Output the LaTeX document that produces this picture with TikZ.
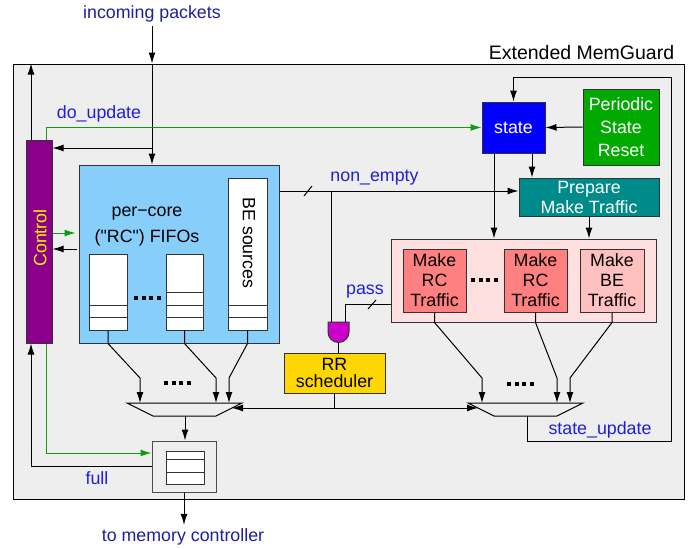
\documentclass[tikz,border=0pt]{standalone}
\usepackage{fontspec}
\setmainfont{Liberation Sans}[Ligatures=TeXOff]
\usetikzlibrary{arrows.meta,calc}

\definecolor{mggray}{HTML}{EEEEEE}
\definecolor{fifoblue}{HTML}{87CEFA}
\definecolor{ctrlpurple}{HTML}{8B008B}
\definecolor{stateblue}{HTML}{0000FF}
\definecolor{resetgreen}{HTML}{00AA00}
\definecolor{prepteal}{HTML}{008B8B}
\definecolor{trafpink}{HTML}{FFE0E0}
\definecolor{rcred}{HTML}{FF8080}
\definecolor{bered}{HTML}{FFC0C0}
\definecolor{gatemag}{HTML}{CC00CC}
\definecolor{rrgold}{HTML}{FFD700}
\definecolor{flowgreen}{HTML}{119911}
\definecolor{notenavy}{HTML}{1E1EA0}
\definecolor{sigblue}{HTML}{1E1EDC}

\begin{document}
\begin{tikzpicture}[x=1pt,y=-1pt,line width=1pt,
  every node/.style={font=\fontsize{17.8}{20}\selectfont},
  box/.style={draw=black!80,inner sep=0pt,align=center},
  arr/.style={-{Latex[length=11pt,width=7pt]}},
  garr/.style={arr,draw=flowgreen},
  note/.style={text=notenavy},
  sig/.style={text=sigblue}]
  \useasboundingbox (0,0) rectangle (699,549);
  % frame
  \node[box,draw=black,fill=mggray,minimum width=671pt,minimum height=435pt] (mg) at (348.5,281.5) {};
  \node[anchor=base east,font=\fontsize{19.5}{22}\selectfont] (mgname) at (678,59) {Extended MemGuard};
  % control
  \node[box,fill=ctrlpurple,minimum width=26pt,minimum height=203pt] (ctrl) at (39,241.5) {};
  \node[rotate=90,text=yellow] (ctrltxt) at (40,238) {Control};
  % per-core fifos
  \node[box,fill=fifoblue,minimum width=200pt,minimum height=178pt] (fifo) at (179,254) {};
  \node[align=center] (fifotxt) at (147,227) {per−core\\[6pt]("RC") FIFOs};
  \node[box,fill=white,minimum width=38pt,minimum height=76pt] (col1) at (108,292) {};
  \node[box,fill=white,minimum width=37pt,minimum height=76pt] (col2) at (184.5,292) {};
  \node[box,fill=white,minimum width=39pt,minimum height=152pt] (becol) at (247.5,254) {};
  \node[rotate=-90] (betxt) at (249,243) {BE sources};
  \foreach \c in {col1,col2,becol}
    \foreach \h in {13,25}
      \draw[black!80] ([yshift=\h pt]\c.south west) -- ([yshift=\h pt]\c.south east);
  \draw[black!80] ([yshift=38pt]col2.south west) -- ([yshift=38pt]col2.south east);
  % state part
  \node[box,fill=stateblue,text=white,minimum width=63pt,minimum height=51pt] (state) at (513.5,127.5) {state};
  \node[box,fill=resetgreen,text=white,minimum width=76pt,minimum height=76pt] (reset) at (621,127) {Periodic\\[3pt]State\\[3pt]Reset};
  \node[box,fill=prepteal,text=white,minimum width=140pt,minimum height=38pt] (prep) at (589,197) {Prepare\\Make Traffic};
  \node[box,fill=trafpink,minimum width=265pt,minimum height=83pt] (pink) at (523.5,280.5) {};
  \node[box,fill=rcred,minimum width=63pt,minimum height=63pt] (rc1) at (434.5,280.5) {Make\\RC\\Traffic};
  \node[box,fill=rcred,minimum width=63pt,minimum height=63pt] (rc2) at (535.5,280.5) {Make\\RC\\Traffic};
  \node[box,fill=bered,minimum width=64pt,minimum height=63pt] (be) at (612,280.5) {Make\\BE\\Traffic};
  % scheduler
  \node[box,fill=rrgold,minimum width=101pt,minimum height=40pt] (rr) at (334.5,373) {RR\\[-3pt]scheduler};
  \draw[fill=gatemag,draw=black!80] (328,322) -- (349,322) -- (349,332) arc (0:180:10.5) -- cycle;
  \coordinate (gin1) at (331,322);
  \coordinate (gin2) at (345,322);
  \coordinate (gout) at (338.5,342.5);
  % muxes
  \draw[fill=mggray] (127,403) -- (242,403) -- (216,416) -- (153,416) -- cycle;
  \draw[fill=mggray] (468,403) -- (583,403) -- (557,416) -- (494,416) -- cycle;
  \coordinate (m1a) at (140,403);
  \coordinate (m1b) at (216,403);
  \coordinate (m1c) at (229,403);
  \coordinate (m2a) at (482,403);
  \coordinate (m2b) at (557,403);
  \coordinate (m2c) at (570,403);
  \coordinate (m1r) at (232,408);
  \coordinate (m2l) at (478,408);
  \coordinate (m1out) at (185,416);
  \coordinate (m2out) at (527,416);
  % output fifo
  \node[box,draw=black!70,fill=mggray,minimum width=64pt,minimum height=51pt] (outfifo) at (184,466.5) {};
  \node[box,fill=white,minimum width=38pt,minimum height=33pt] (outbuf) at (185,467.5) {};
  \foreach \h in {12,25}
    \draw[black!80] ([yshift=\h pt]outbuf.south west) -- ([yshift=\h pt]outbuf.south east);
  % dots
  \foreach \dx/\dy in {134/296,164/381,471/278,507/382}
    \foreach \k in {0,...,3}
      \fill (\dx+\k*7.7,\dy) rectangle +(4,4);
  % labels
  \node[note] (inc) at (152,14) {incoming packets};
  \node[note] (mem) at (183,537) {to memory controller};
  \node[sig] (doupd) at (99,114) {do\_update};
  \node[sig] (netxt) at (374.5,178) {non\_empty};
  \node[sig] (passtxt) at (365,292) {pass};
  \node[sig] (stupd) at (600,430) {state\_update};
  \node[sig] (full) at (97,478) {full};
  % connections
  \coordinate (jin) at (inc |- 0,148);
  \draw[arr] (inc) -- (inc |- mg.north);
  \draw[arr] (inc |- mg.north) -- (inc |- fifo.north);
  \draw[arr] (jin) -- (jin -| ctrl.east);
  \coordinate (ctop1) at ([xshift=-8pt]ctrl.north);
  \coordinate (ctop2) at ([xshift=7pt]ctrl.north);
  \coordinate (cbot1) at ([xshift=-8pt]ctrl.south);
  \coordinate (cbot2) at ([xshift=7pt]ctrl.south);
  \draw[arr] (ctop1) -- (ctop1 |- mg.north);
  \draw[garr] (ctop2) |- (state.west);
  \draw[garr,shorten >=3pt] (ctrl.east |- 0,233) -- (fifo.west |- 0,233);
  \draw[arr,shorten <=2pt] (fifo.west |- 0,249) -- (ctrl.east |- 0,249);
  \draw[arr] (outfifo.west) -| (cbot1);
  \draw[garr] (cbot2) |- (outfifo.west |- 0,453);
  % non_empty and pass
  \coordinate (ne) at (331,191);
  \draw[arr] (fifo.east |- ne) -- (prep.west |- ne);
  \draw (304,196) -- (312,186);
  \draw (ne) -- (gin1);
  \draw (pink.west |- 0,304) -| (gin2);
  \draw (368,309) -- (376,300);
  \draw (gout) -- (gout |- rr.north);
  \coordinate (jrr) at (rr.south |- 0,408);
  \draw (rr.south) -- (jrr);
  \draw[arr] (jrr) -- (m1r);
  \draw[arr] (jrr) -- (m2l);
  % state
  \draw[arr] (reset.west) -- (state.east);
  \coordinate (st1) at ([xshift=-19.5pt]state.south);
  \coordinate (st2) at ([xshift=18.5pt]state.south);
  \draw[arr] (st1) -- (st1 |- pink.north);
  \draw[arr] (st2) -- (st2 |- prep.north);
  \draw[arr] (prep.south) -- (prep.south |- pink.north);
  \draw[arr] (m2out) |- (671,441) |- (state.north |- 0,77) -- (state.north);
  % sources to muxes
  \foreach \src/\encl/\dst in {col1/fifo/m1a,col2/fifo/m1b,becol/fifo/m1c,rc1/pink/m2a,rc2/pink/m2b,be/pink/m2c}
    \draw[arr] (\src.south) -- (\src.south |- \encl.south) -- ([yshift=25pt]\dst) -- (\dst);
  \draw[arr] (m1out) -- (m1out |- outfifo.north);
  \draw[arr] (outfifo.south) -- (outfifo.south |- mem.north);
\end{tikzpicture}
\end{document}
